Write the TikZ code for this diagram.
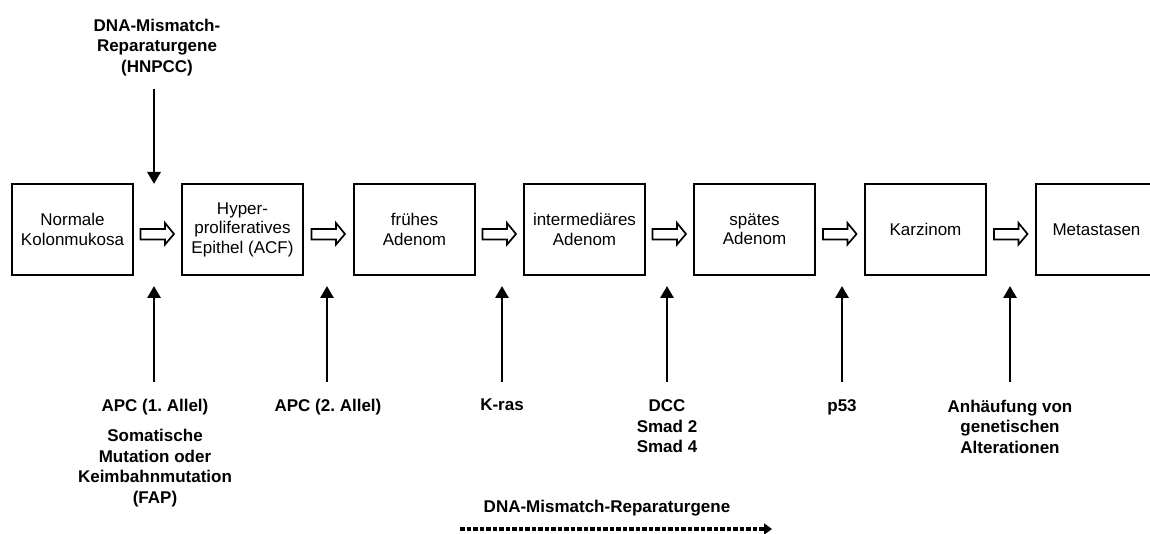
\documentclass[tikz,border=0pt]{standalone}
\usepackage{fontspec}
\setmainfont{Liberation Sans}
\usetikzlibrary{arrows.meta,calc}
\frenchspacing
\newcommand\hollowarrow[2]{%
  \path ($(#1.east)!0.5!(#2.west)$) coordinate (hm);
  \draw[hollow] ($(hm)+(-17,-0.5)$) -- ($(hm)+(7.5,-0.5)$) -- ($(hm)+(7.5,-6.5)$)
    -- ($(hm)+(16.5,4.5)$) -- ($(hm)+(7.5,15)$) -- ($(hm)+(7.5,10)$)
    -- ($(hm)+(-17,10)$) -- cycle;}
\begin{document}
\frenchspacing
\begin{tikzpicture}[x=1pt,y=-1pt,
  box/.style={draw, line width=2.2pt, minimum width=121pt, minimum height=91pt,
    inner sep=0pt, align=center, font=\fontsize{17}{19.5}\selectfont},
  lab/.style={align=center, inner sep=0pt, anchor=north,
    font=\fontsize{17}{20.5}\selectfont\bfseries},
  vup/.style={line width=2.9pt, -{Triangle[width=13pt,length=12pt]}},
  hollow/.style={draw, line width=1.7pt, fill=white, line join=miter},
  dotarrow/.style={line width=4.5pt, dash pattern=on 4.5pt off 2pt,
    -{Triangle[width=11pt,length=8pt]}}]
\fill[white] (0,0) rectangle (1150,534);
\useasboundingbox (0,0) rectangle (1150,534);

% boxes
\node[box] (b1) at (72.5,229.5)  {Normale\\Kolonmukosa};
\node[box] (b2) at (242.5,229.5) {Hyper-\\proliferatives\\Epithel (ACF)};
\node[box] (b3) at (414.5,229.5) {frühes\\Adenom};
\node[box] (b4) at (584.5,229.5) {intermediäres\\Adenom};
\node[box] (b5) at (754.5,229.5) {spätes\\Adenom};
\node[box] (b6) at (925.5,229.5) {Karzinom};
\node[box] (b7) at (1096.5,229.5) {Metastasen};

% hollow arrows
\hollowarrow{b1}{b2}
\hollowarrow{b2}{b3}
\hollowarrow{b3}{b4}
\hollowarrow{b4}{b5}
\hollowarrow{b5}{b6}
\hollowarrow{b6}{b7}

% top label and arrow
\node[lab] (top) at (157,18.5) {DNA-Mismatch-\\Reparaturgene\\(HNPCC)};
\coordinate (ts) at (154,89);
\coordinate (te) at (154,184);
\draw[vup] (ts) -- (te);

% bottom labels
\node[lab] (l1) at (155,399) {APC (1. Allel)};
\node[lab] (l1b) at (155,429) {Somatische\\Mutation oder\\Keimbahnmutation\\(FAP)};
\node[lab] (l2) at (328,399) {APC (2. Allel)};
\node[lab] (l3) at (502,399) {K-ras};
\node[lab] (l4) at (667,399.5) {DCC\\Smad 2\\Smad 4};
\node[lab] (l5) at (842,399) {p53};
\node[lab] (l6) at (1010,399.5) {Anhäufung von\\genetischen\\Alterationen};

% bottom vertical arrows
\foreach \n/\x in {1/154,2/327,3/502,4/667,5/842,6/1010}{
  \coordinate (s\n) at (\x,382);
  \coordinate (e\n) at (\x,286);
  \draw[vup] (s\n) -- (e\n);
}

% dashed arrow
\node[lab] (mm) at (607,500) {DNA-Mismatch-Reparaturgene};
\coordinate (ds) at (460,529);
\coordinate (de) at (772,529);
\draw[dotarrow] (ds) -- (de);
\end{tikzpicture}
\end{document}
